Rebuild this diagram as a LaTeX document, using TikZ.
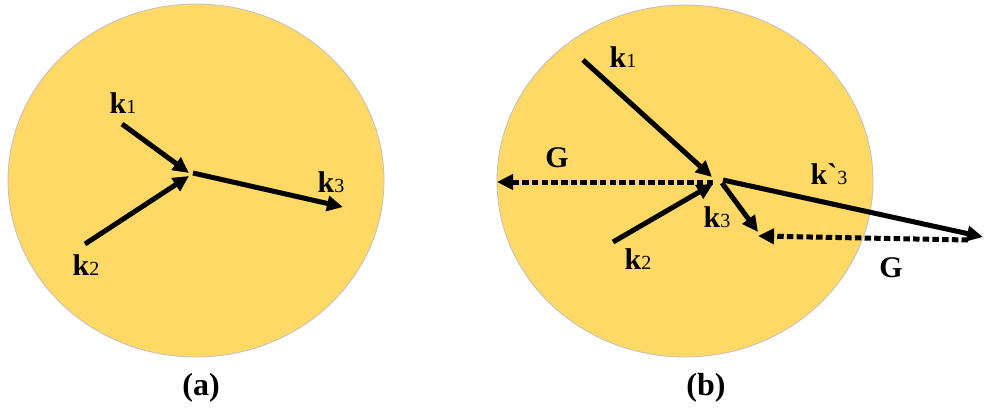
\documentclass[tikz,border=0pt]{standalone}
\usepackage{fontspec}
\setmainfont{Liberation Serif}
\usetikzlibrary{arrows.meta}
\definecolor{gold}{HTML}{FFD966}
\definecolor{rim}{HTML}{BFBFBF}
\newcommand\kvec[1]{{\bfseries k}{\fontsize{20}{20}\selectfont\mdseries #1}}
\begin{document}
\begin{tikzpicture}[x=1pt,y=-1pt,
  disc/.style={fill=gold,draw=rim,line width=0.8pt},
  vec/.style={line width=5pt,-{Triangle[length=16pt,width=15pt]}},
  gvec/.style={line width=5pt,dash pattern=on 6.5pt off 3.2pt,-{Triangle[length=16pt,width=15pt]}},
  klab/.style={font=\fontsize{30}{30}\selectfont, inner sep=0pt},
  glab/.style={font=\fontsize{30}{30}\selectfont\bfseries, inner sep=0pt},
  caplab/.style={font=\fontsize{32}{32}\selectfont\bfseries, inner sep=0pt}]
\useasboundingbox (0,0) rectangle (985,409);
% discs
\draw[disc] (196,180.5) ellipse [x radius=188pt, y radius=176.5pt];
\draw[disc] (685,181) ellipse [x radius=188pt, y radius=176pt];
% panel (a)
\coordinate (a1s) at (122,124);
\coordinate (a1e) at (189,173);
\coordinate (a2s) at (85,244);
\coordinate (a2e) at (189,176);
\coordinate (a3s) at (193,173);
\coordinate (a3e) at (343,207);
\draw[vec] (a1s) -- (a1e);
\draw[vec] (a2s) -- (a2e);
\draw[vec] (a3s) -- (a3e);
\node[klab] (la1) at (123,103) {\kvec{1}};
\node[klab] (la2) at (86,265) {\kvec{2}};
\node[klab] (la3) at (331,182) {\kvec{3}};
\node[caplab] (capa) at (201,388) {(a)};
% panel (b)
\coordinate (b1s) at (583,60);
\coordinate (b1e) at (712,177);
\coordinate (b2s) at (613,242);
\coordinate (b2e) at (713,184);
\coordinate (g1s) at (713,182);
\coordinate (g1e) at (497,182);
\coordinate (b3s) at (722,183);
\coordinate (b3e) at (758,232);
\coordinate (bps) at (723,180);
\coordinate (bpe) at (983,237);
\coordinate (g2s) at (968,240);
\coordinate (g2e) at (758,236);
\draw[gvec] (g1s) -- (g1e);
\draw[gvec] (g2s) -- (g2e);
\draw[vec] (b1s) -- (b1e);
\draw[vec] (b2s) -- (b2e);
\draw[vec] (b3s) -- (b3e);
\draw[vec] (bps) -- (bpe);
\node[klab] (lb1) at (623,57) {\kvec{1}};
\node[klab] (lb2) at (638,259) {\kvec{2}};
\node[klab] (lb3) at (717,217) {\kvec{3}};
\node[klab] (lbp) at (829,174) {{\bfseries k\textasciigrave}{\fontsize{20}{20}\selectfont 3}};
\node[glab] (lg1) at (557,158) {G};
\node[glab] (lg2) at (891,268) {G};
\node[caplab] (capb) at (706,388) {(b)};
\end{tikzpicture}
\end{document}
